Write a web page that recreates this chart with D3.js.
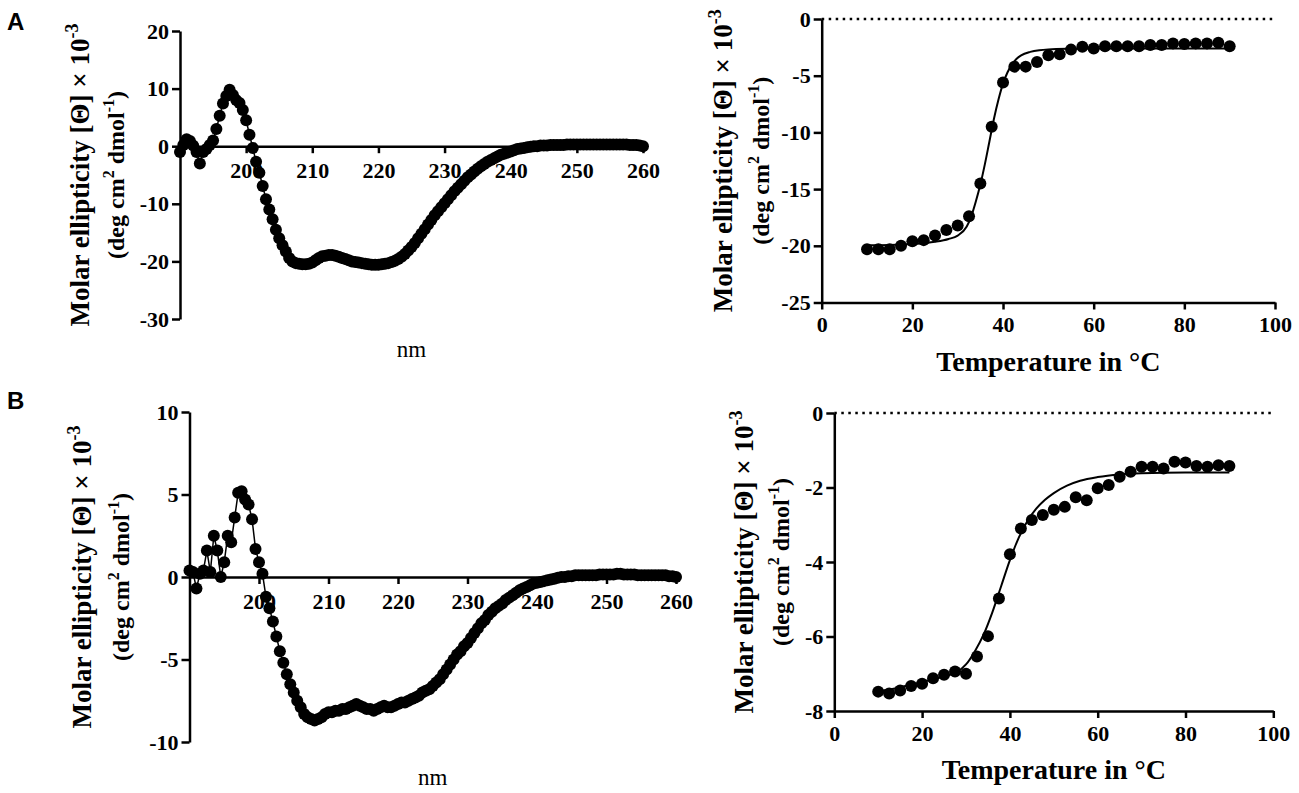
<!DOCTYPE html>
<html>
<head>
<meta charset="utf-8">
<script src="https://cdn.jsdelivr.net/npm/d3@7"></script>
<style>
    body { margin: 0; background: #fff; }
    text { font-family: "Liberation Serif", "Times New Roman", serif; fill: #000; }
</style>
</head>
<body>
<script>
// wavelength grid of the CD spectra (0.5 nm steps)
const wavelengths = d3.range(190, 260.01, 0.5);

// panel A, far-UV spectrum (x 10^-3)
const spectrumA = [
    -1.0, 0.2, 1.2, 0.9, 0.1, -1.0, -3.0, -1.0, -0.5, 0.2,
    1.0, 3.0, 5.3, 7.4, 8.7, 9.8, 8.9, 8.0, 7.5, 6.3,
    4.5, 2.0, -0.3, -2.7, -4.6, -6.9, -9.2, -11.0, -12.7, -14.5,
    -16.0, -17.2, -18.3, -19.4, -20.0, -20.3, -20.4, -20.5, -20.5, -20.4,
    -20.2, -19.8, -19.4, -19.1, -19.0, -18.9, -18.9, -19.0, -19.2, -19.4,
    -19.6, -19.8, -20.0, -20.1, -20.2, -20.3, -20.4, -20.5, -20.6, -20.6,
    -20.6, -20.5, -20.4, -20.3, -20.1, -19.9, -19.6, -19.2, -18.7, -18.1,
    -17.5, -16.8, -16.0, -15.2, -14.4, -13.6, -12.8, -12.0, -11.3, -10.6,
    -9.9, -9.2, -8.5, -7.8, -7.2, -6.6, -6.0, -5.4, -4.9, -4.4,
    -3.9, -3.5, -3.1, -2.7, -2.4, -2.1, -1.8, -1.5, -1.3, -1.1,
    -0.9, -0.7, -0.5, -0.4, -0.3, -0.2, -0.1, 0.0, 0.0, 0.1,
    0.1, 0.1, 0.2, 0.2, 0.2, 0.2, 0.2, 0.3, 0.3, 0.3,
    0.3, 0.3, 0.3, 0.3, 0.3, 0.3, 0.3, 0.3, 0.3, 0.3,
    0.3, 0.3, 0.3, 0.3, 0.3, 0.3, 0.2, 0.2, 0.2, 0.1,
    0.0
];

// panel B, far-UV spectrum (x 10^-3)
const spectrumB = [
    0.4, 0.3, -0.7, 0.2, 0.4, 1.6, 0.3, 2.5, 1.6, 0.0,
    0.9, 2.5, 2.1, 3.6, 5.1, 5.2, 4.7, 4.4, 3.5, 1.7,
    0.9, 0.2, -1.2, -1.9, -2.7, -3.6, -4.5, -5.2, -5.9, -6.5,
    -7.0, -7.5, -7.9, -8.3, -8.5, -8.6, -8.7, -8.6, -8.5, -8.3,
    -8.2, -8.2, -8.1, -8.1, -8.0, -8.0, -7.9, -7.8, -7.7, -7.8,
    -7.9, -8.0, -8.0, -8.1, -8.0, -7.9, -7.8, -7.9, -7.9, -7.8,
    -7.7, -7.6, -7.6, -7.5, -7.4, -7.3, -7.2, -7.0, -6.9, -6.8,
    -6.6, -6.4, -6.2, -5.9, -5.6, -5.3, -5.0, -4.7, -4.5, -4.2,
    -4.0, -3.7, -3.4, -3.1, -2.8, -2.6, -2.3, -2.1, -1.9, -1.75,
    -1.6, -1.4, -1.25, -1.1, -0.95, -0.8, -0.7, -0.6, -0.5, -0.4,
    -0.35, -0.3, -0.25, -0.2, -0.15, -0.1, -0.05, 0.0, 0.0, 0.05,
    0.05, 0.1, 0.1, 0.1, 0.1, 0.1, 0.1, 0.1, 0.15, 0.15,
    0.15, 0.15, 0.15, 0.2, 0.2, 0.15, 0.15, 0.15, 0.15, 0.1,
    0.1, 0.1, 0.1, 0.1, 0.1, 0.1, 0.1, 0.1, 0.05, 0.05,
    0.0
];

// thermal melts (signal vs temperature)
const temps = [10, 12.5, 15, 17.5, 20, 22.5, 25, 27.5, 30, 32.5, 35, 37.5, 40, 42.5, 45, 47.5,
    50, 52.5, 55, 57.5, 60, 62.5, 65, 67.5, 70, 72.5, 75, 77.5, 80, 82.5, 85, 87.5, 90];
const meltA = [-20.3, -20.3, -20.3, -20.0, -19.6, -19.5, -19.1, -18.6, -18.2, -17.4, -14.5, -9.5,
    -5.6, -4.2, -4.2, -3.8, -3.2, -3.1, -2.7, -2.45, -2.6, -2.4, -2.4, -2.4, -2.4, -2.3, -2.3,
    -2.15, -2.2, -2.15, -2.15, -2.1, -2.4];
const meltB = [-7.48, -7.53, -7.45, -7.33, -7.27, -7.12, -7.03, -6.94, -7.0, -6.54, -5.99, -4.98,
    -3.79, -3.1, -2.87, -2.74, -2.6, -2.52, -2.26, -2.34, -2.02, -1.93, -1.71, -1.58, -1.44,
    -1.44, -1.49, -1.31, -1.33, -1.42, -1.44, -1.4, -1.42];

// sigmoid fit curves
const fitTempA = [10, 15, 20, 25, 28, 30, 32, 33, 34, 35, 36, 37, 38, 39, 40, 41, 42, 43, 44, 46, 48, 50, 55, 60, 70, 80, 90];
const fitA = [-19.95, -19.93, -19.85, -19.65, -19.4, -19.1, -18.3, -17.4, -16.1, -14.6, -12.8, -10.8,
    -8.8, -7.1, -5.7, -4.7, -4.0, -3.5, -3.2, -2.9, -2.75, -2.68, -2.62, -2.6, -2.6, -2.6, -2.6];
const fitTempB = [10, 15, 20, 25, 28, 30, 32, 34, 36, 38, 40, 42, 44, 46, 48, 50, 53, 56, 60, 65, 70, 80, 90];
const fitB = [-7.48, -7.36, -7.22, -7.07, -6.95, -6.75, -6.4, -5.95, -5.35, -4.65, -3.95, -3.35,
    -2.9, -2.57, -2.33, -2.15, -1.95, -1.82, -1.72, -1.65, -1.62, -1.6, -1.6];

// tick labels
const nmTicks = [200, 210, 220, 230, 240, 250, 260];
const specTicksA = [20, 10, 0, -10, -20, -30];
const specTicksB = [10, 5, 0, -5, -10];
const tempTicks = [0, 20, 40, 60, 80, 100];
const meltTicksA = [0, -5, -10, -15, -20, -25];
const meltTicksB = [0, -2, -4, -6, -8];

const svg = d3.select("body")
    .append("svg")
    .attr("width", 1299)
    .attr("height", 793);

const styleAxis = (g) => {
    g.selectAll("path, line").attr("stroke", "#000").attr("stroke-width", 2.5);
    g.selectAll("text")
        .attr("font-size", 22)
        .attr("font-weight", "bold")
        .attr("fill", "#000");
};

// two-line rotated y label
const yLabel = (x1, x2, cy) => {
    const t1 = svg.append("text")
        .attr("transform", `translate(${x1},${cy}) rotate(-90)`)
        .attr("text-anchor", "middle")
        .attr("dy", 9)
        .attr("font-size", 27)
        .attr("font-weight", "bold");
    t1.append("tspan").text("Molar ellipticity [\u0398] \u00d7 10");
    t1.append("tspan").attr("dy", -11).attr("font-size", 18).text("-3");

    const t2 = svg.append("text")
        .attr("transform", `translate(${x2},${cy}) rotate(-90)`)
        .attr("text-anchor", "middle")
        .attr("dy", 8)
        .attr("font-size", 24)
        .attr("font-weight", "bold");
    t2.append("tspan").text("(deg cm");
    t2.append("tspan").attr("dy", -10).attr("font-size", 16).text("2");
    t2.append("tspan").attr("dy", 10).text(" dmol");
    t2.append("tspan").attr("dy", -10).attr("font-size", 16).text("-1");
    t2.append("tspan").attr("dy", 10).text(")");
};

const spectrum = (values, cfg) => {
    const x = d3.scaleLinear().domain([190, 260]).range(cfg.xRange);
    const y = d3.scaleLinear().domain(cfg.yDomain).range(cfg.yRange);

    svg.append("g")
        .attr("transform", `translate(${cfg.xRange[0]},0)`)
        .call(d3.axisLeft(y).tickValues(cfg.yTicks).tickSize(8).tickSizeOuter(0).tickPadding(3).tickFormat((d) => d))
        .call(styleAxis);

    svg.append("g")
        .attr("transform", `translate(0,${y(0)})`)
        .call(d3.axisBottom(x).tickValues(nmTicks).tickSize(7).tickSizeOuter(0).tickPadding(9).tickFormat((d) => d))
        .call(styleAxis);

    const pts = wavelengths.map((w, i) => ({ w: w, v: values[i] }));

    svg.append("path")
        .datum(pts)
        .attr("d", d3.line().x((d) => x(d.w)).y((d) => y(d.v)))
        .attr("fill", "none")
        .attr("stroke", "#000")
        .attr("stroke-width", 1.5);

    svg.append("g")
        .selectAll("circle")
        .data(pts)
        .join("circle")
        .attr("cx", (d) => x(d.w))
        .attr("cy", (d) => y(d.v))
        .attr("r", 6)
        .attr("fill", "#000");

    svg.append("text")
        .attr("x", (cfg.xRange[0] + cfg.xRange[1]) / 2)
        .attr("y", cfg.yRange[0] + cfg.nmOffset)
        .attr("text-anchor", "middle")
        .attr("font-size", 23)
        .text("nm");

    yLabel(cfg.label[0], cfg.label[1], (cfg.yRange[0] + cfg.yRange[1]) / 2);
};

const melt = (values, fitT, fitV, cfg) => {
    const x = d3.scaleLinear().domain([0, 100]).range(cfg.xRange);
    const y = d3.scaleLinear().domain(cfg.yDomain).range(cfg.yRange);

    // dotted zero line
    svg.append("line")
        .attr("x1", x(0)).attr("x2", x(100))
        .attr("y1", y(0)).attr("y2", y(0))
        .attr("stroke", "#000")
        .attr("stroke-width", 2.5)
        .attr("stroke-dasharray", "2.5,4.5");

    svg.append("g")
        .attr("transform", `translate(${cfg.xRange[0]},0)`)
        .call(d3.axisLeft(y).tickValues(cfg.yTicks).tickSize(8).tickSizeOuter(0).tickPadding(3).tickFormat((d) => d))
        .call(styleAxis);

    svg.append("g")
        .attr("transform", `translate(0,${cfg.yRange[0]})`)
        .call(d3.axisBottom(x).tickValues(tempTicks).tickSize(7).tickSizeOuter(0).tickPadding(7).tickFormat((d) => d))
        .call(styleAxis);

    const fit = fitT.map((t, i) => ({ t: t, v: fitV[i] }));
    svg.append("path")
        .datum(fit)
        .attr("d", d3.line().curve(d3.curveMonotoneX).x((d) => x(d.t)).y((d) => y(d.v)))
        .attr("fill", "none")
        .attr("stroke", "#000")
        .attr("stroke-width", 2);

    svg.append("g")
        .selectAll("circle")
        .data(temps.map((t, i) => ({ t: t, v: values[i] })))
        .join("circle")
        .attr("cx", (d) => x(d.t))
        .attr("cy", (d) => y(d.v))
        .attr("r", 6)
        .attr("fill", "#000");

    svg.append("text")
        .attr("x", (cfg.xRange[0] + cfg.xRange[1]) / 2)
        .attr("y", cfg.yRange[0] + 68)
        .attr("text-anchor", "middle")
        .attr("font-size", 28)
        .attr("font-weight", "bold")
        .text("Temperature in \u00b0C");

    yLabel(cfg.label[0], cfg.label[1], (cfg.yRange[0] + cfg.yRange[1]) / 2);
};

spectrum(spectrumA, {
    xRange: [180, 643], yDomain: [-30, 20], yRange: [319, 31],
    yTicks: specTicksA, nmOffset: 38, label: [80, 116]
});
spectrum(spectrumB, {
    xRange: [189.5, 676], yDomain: [-10, 10], yRange: [742, 412],
    yTicks: specTicksB, nmOffset: 43, label: [82, 121]
});
melt(meltA, fitTempA, fitA, {
    xRange: [821.7, 1275], yDomain: [-25, 0], yRange: [302.5, 19],
    yTicks: meltTicksA, label: [723, 761]
});
melt(meltB, fitTempB, fitB, {
    xRange: [834.3, 1273.3], yDomain: [-8, 0], yRange: [711, 413],
    yTicks: meltTicksB, label: [744, 781]
});

// panel letters
svg.append("text").attr("x", 7).attr("y", 30)
    .style("font-family", "'Liberation Sans', Arial, sans-serif")
    .attr("font-size", 24).attr("font-weight", "bold").text("A");
svg.append("text").attr("x", 7).attr("y", 409)
    .style("font-family", "'Liberation Sans', Arial, sans-serif")
    .attr("font-size", 24).attr("font-weight", "bold").text("B");
</script>
</body>
</html>
